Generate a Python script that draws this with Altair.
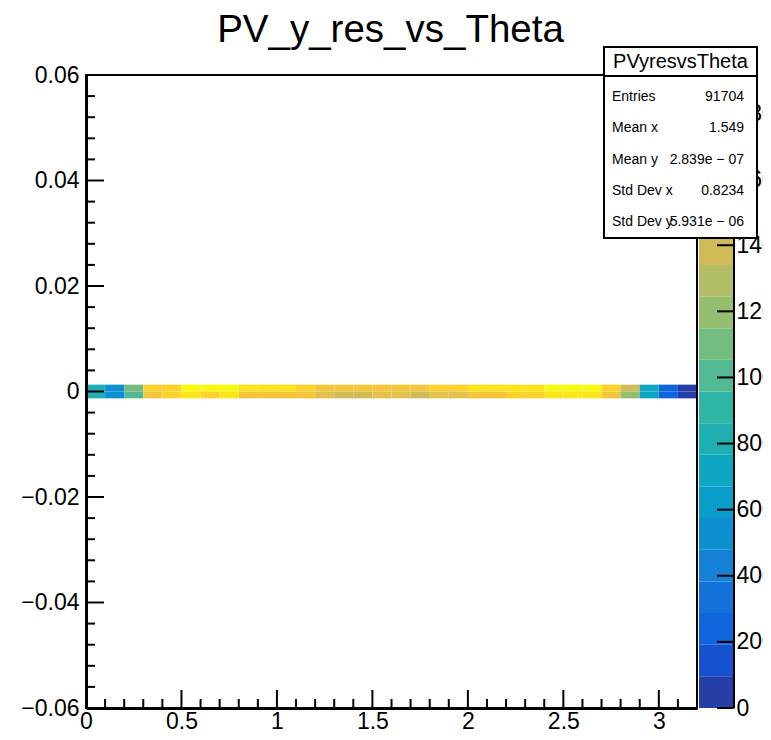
import math
import altair as alt
import pandas as pd

# ---------------- data ----------------
theta_bin_low = [0.0, 0.1, 0.2, 0.3, 0.4, 0.5, 0.6, 0.7, 0.8, 0.9, 1.0, 1.1, 1.2, 1.3, 1.4, 1.5,
                 1.6, 1.7, 1.8, 1.9, 2.0, 2.1, 2.2, 2.3, 2.4, 2.5, 2.6, 2.7, 2.8, 2.9, 3.0, 3.1]
theta_bin_width = 0.1
yres_row_low = [0.0, -0.0013]
yres_row_high = [0.0013, 0.0]
counts_upper = [812, 530, 1098, 1668, 1690, 1872, 1905, 1880, 1775, 1760, 1768, 1672, 1590, 1575, 1570, 1585,
                1578, 1582, 1660, 1680, 1765, 1778, 1772, 1760, 1868, 1890, 1862, 1665, 1392, 722, 243, 48]
counts_lower = [805, 520, 1003, 1582, 1670, 1768, 1676, 1772, 1585, 1578, 1590, 1575, 1480, 1385, 1395, 1490,
                1478, 1392, 1488, 1482, 1580, 1592, 1680, 1672, 1775, 1768, 1762, 1575, 1198, 715, 238, 52]
ZMAX = 1915
N_CONTOURS = 20

x_major = [0, 0.5, 1, 1.5, 2, 2.5, 3]
x_minor = [0.1, 0.2, 0.3, 0.4, 0.6, 0.7, 0.8, 0.9, 1.1, 1.2, 1.3, 1.4, 1.6, 1.7, 1.8, 1.9,
           2.1, 2.2, 2.3, 2.4, 2.6, 2.7, 2.8, 2.9, 3.1]
y_major = [-0.06, -0.04, -0.02, 0.0, 0.02, 0.04, 0.06]
y_minor = [-0.056, -0.052, -0.048, -0.044, -0.036, -0.032, -0.028, -0.024, -0.016, -0.012, -0.008, -0.004,
           0.004, 0.008, 0.012, 0.016, 0.024, 0.028, 0.032, 0.036, 0.044, 0.048, 0.052, 0.056]
z_ticks = [0, 200, 400, 600, 800, 1000, 1200, 1400, 1600, 1800]

chart_title = "PV_y_res_vs_Theta"
stat_names = ["Entries", "Mean x", "Mean y", "Std Dev x", "Std Dev y"]
stat_values = ["91704", "1.549", "2.839e \u2212 07", "0.8234", "5.931e \u2212 06"]
stats_title = "PVyresvsTheta"

# ---------------- kBird palette (ROOT) ----------------
stops = [0.0, 0.125, 0.25, 0.375, 0.5, 0.625, 0.75, 0.875, 1.0]
red = [0.2082, 0.0592, 0.0780, 0.0232, 0.1802, 0.5301, 0.8186, 0.9956, 0.9764]
green = [0.1664, 0.3599, 0.5041, 0.6419, 0.7178, 0.7492, 0.7328, 0.7862, 0.9832]
blue = [0.5293, 0.8684, 0.8385, 0.7914, 0.6425, 0.4662, 0.3499, 0.1968, 0.0539]
palette = []
for g in range(1, len(stops)):
    n = math.floor(255 * stops[g]) - math.floor(255 * stops[g - 1])
    for c in range(n):
        r = red[g - 1] + c * (red[g] - red[g - 1]) / n
        gg = green[g - 1] + c * (green[g] - green[g - 1]) / n
        b = blue[g - 1] + c * (blue[g] - blue[g - 1]) / n
        palette.append("#%02x%02x%02x" % (round(r * 255), round(gg * 255), round(b * 255)))
level_colors = [palette[int((k + 0.99) * len(palette) / N_CONTOURS)] for k in range(N_CONTOURS)]

FONT = "Liberation Sans"
W, H = 611, 633

# ---------------- tables ----------------
rows = []
for i, x0 in enumerate(theta_bin_low):
    rows.append({"x0": x0, "x1": x0 + theta_bin_width, "y0": yres_row_low[0], "y1": yres_row_high[0], "count": counts_upper[i]})
    rows.append({"x0": x0, "x1": x0 + theta_bin_width, "y0": yres_row_low[1], "y1": yres_row_high[1], "count": counts_lower[i]})
heat_df = pd.DataFrame(rows)

step = ZMAX / N_CONTOURS
cbar_df = pd.DataFrame({"lo": [k * step for k in range(N_CONTOURS)],
                        "hi": [(k + 1) * step for k in range(N_CONTOURS)],
                        "mid": [(k + 0.5) * step for k in range(N_CONTOURS)]})

color_scale = alt.Scale(type="quantize", domain=[0, ZMAX], range=level_colors, nice=False)
xs = alt.Scale(domain=[0, 3.2], nice=False, zero=False)
ys = alt.Scale(domain=[-0.06, 0.06], nice=False, zero=False)
zs = alt.Scale(domain=[0, ZMAX], nice=False, zero=False)

x_axis = alt.Axis(
    values=x_major, format="~g", title=None, ticks=False, tickSize=0, grid=False,
    labelFont=FONT, labelFontSize=23, labelColor="black", labelPadding=2,
    labelFlush=False, labelOverlap=False, labelBound=False,
    domainColor="black", domainWidth=3, zindex=1)

heat = alt.Chart(heat_df).mark_rect(strokeWidth=0).encode(
    x=alt.X("x0:Q", scale=xs, axis=x_axis),
    x2="x1:Q",
    y=alt.Y("y0:Q", scale=ys, axis=alt.Axis(
        values=y_major, title=None, ticks=False, tickSize=0, grid=False,
        labelExpr="datum.value == 0 ? '0' : format(datum.value, '.2f')",
        labelFont=FONT, labelFontSize=23, labelColor="black", labelPadding=7,
        labelFlush=False, labelOverlap=False, labelBound=False,
        domainColor="black", domainWidth=3, zindex=1)),
    y2="y1:Q",
    color=alt.Color("count:Q", scale=color_scale, legend=None),
)

xt_major = alt.Chart(pd.DataFrame({"v": x_major})).mark_rule(color="black", strokeWidth=2).encode(
    x=alt.X("v:Q", scale=xs, axis=x_axis), y=alt.value(H), y2=alt.value(H - 18))
xt_minor = alt.Chart(pd.DataFrame({"v": x_minor})).mark_rule(color="black", strokeWidth=2).encode(
    x=alt.X("v:Q", scale=xs, axis=x_axis), y=alt.value(H), y2=alt.value(H - 9))
yt_major = alt.Chart(pd.DataFrame({"v": y_major})).mark_rule(color="black", strokeWidth=2).encode(
    y=alt.Y("v:Q", scale=ys, axis=None), x=alt.value(0), x2=alt.value(18))
yt_minor = alt.Chart(pd.DataFrame({"v": y_minor})).mark_rule(color="black", strokeWidth=2).encode(
    y=alt.Y("v:Q", scale=ys, axis=None), x=alt.value(0), x2=alt.value(9))

frame = alt.Chart(pd.DataFrame({"a": [0]})).mark_rect(fill="transparent", stroke="black", strokeWidth=2).encode(
    x=alt.value(0), x2=alt.value(W), y=alt.value(0), y2=alt.value(H))

cbar = alt.Chart(cbar_df).mark_rect(strokeWidth=0).encode(
    y=alt.Y("lo:Q", scale=zs, axis=alt.Axis(
        orient="right", offset=36, values=z_ticks, format="d", title=None, ticks=False, tickSize=0,
        grid=False, labelFont=FONT, labelFontSize=23, labelColor="black", labelPadding=3,
        labelFlush=False, labelOverlap=False, labelBound=False,
        domainColor="black", domainWidth=3, zindex=0)),
    y2="hi:Q",
    x=alt.value(W + 2), x2=alt.value(W + 36),
    color=alt.Color("mid:Q", scale=color_scale, legend=None),
)
cbar_ticks = alt.Chart(pd.DataFrame({"v": z_ticks})).mark_rule(color="black", strokeWidth=2).encode(
    y=alt.Y("v:Q", scale=zs, axis=None), x=alt.value(W + 20), x2=alt.value(W + 36))

title_mark = alt.Chart(pd.DataFrame({"t": [chart_title]})).mark_text(
    font=FONT, fontSize=38.5, color="black", align="center", baseline="alphabetic").encode(
    text="t:N", x=alt.value(W / 2 - 1), y=alt.value(-33))

BX0, BX1, BY0, BY1 = 518, 671, -28, 163
box = alt.Chart(pd.DataFrame({"a": [0]})).mark_rect(fill="white", stroke="black", strokeWidth=2).encode(
    x=alt.value(BX0), x2=alt.value(BX1), y=alt.value(BY0), y2=alt.value(BY1))
box_sep = alt.Chart(pd.DataFrame({"a": [0]})).mark_rule(color="black", strokeWidth=2).encode(
    x=alt.value(BX0), x2=alt.value(BX1), y=alt.value(1))
box_title = alt.Chart(pd.DataFrame({"t": [stats_title]})).mark_text(
    font=FONT, fontSize=20, color="black", align="center", baseline="middle").encode(
    text="t:N", x=alt.value((BX0 + BX1) / 2), y=alt.value(-13))

stats_df = pd.DataFrame({"name": stat_names, "value": stat_values})
row_scale = alt.Scale(type="point", domain=stat_names, range=[22, 147], padding=0)
stat_lbl = alt.Chart(stats_df).mark_text(font=FONT, fontSize=14, color="black", align="left", baseline="middle").encode(
    text="name:N", x=alt.value(526), y=alt.Y("name:N", scale=row_scale, axis=None))
stat_val = alt.Chart(stats_df).mark_text(font=FONT, fontSize=14, color="black", align="right", baseline="middle").encode(
    text="value:N", x=alt.value(658), y=alt.Y("name:N", scale=row_scale, axis=None))

chart = alt.layer(
    heat, xt_major, xt_minor, yt_major, yt_minor, frame, cbar, cbar_ticks, title_mark,
    box, box_sep, box_title, stat_lbl, stat_val
).resolve_scale(y="independent", color="shared").properties(
    width=W, height=H,
    autosize=alt.AutoSizeParams(type="none"),
    padding={"left": 78, "top": 67, "right": 66, "bottom": 24},
).configure_view(stroke=None).configure(background="white")

chart.save("out.html", embed_options={"renderer": "svg", "actions": False})
